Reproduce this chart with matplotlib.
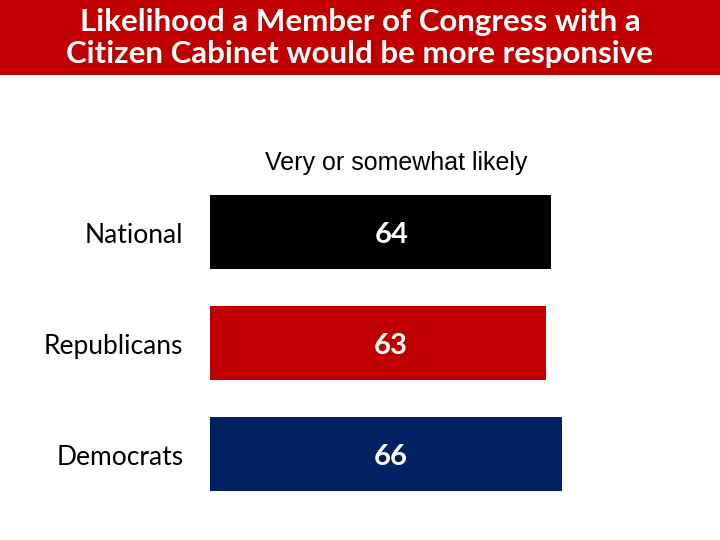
import matplotlib.pyplot as plt
from matplotlib.patches import Rectangle

# data
categories = ["National", "Republicans", "Democrats"]
values = [64, 63, 66]
bar_colors = ["#000000", "#C00000", "#002060"]
title = "Likelihood a Member of Congress with a\nCitizen Cabinet would be more responsive"
subtitle = "Very or somewhat likely"

fig = plt.figure(figsize=(7.2, 5.4), dpi=100)

# red title banner
fig.patches.append(Rectangle((0, 1 - 75 / 540), 1, 75 / 540, transform=fig.transFigure,
                             facecolor="#C00000", edgecolor="none", zorder=0))
fig.text(0.5, 1 - 38 / 540, title, ha="center", va="center", color="white",
         fontsize=22.5, fontweight="bold", family="Lato", linespacing=1.15)

fig.text(396 / 720, 1 - 163 / 540, subtitle, ha="center", va="center",
         fontsize=18, family="Liberation Sans")

ax = fig.add_axes([210 / 720, 30.5 / 540, 533 / 720, 333 / 540])
ypos = range(len(categories))
ax.barh(ypos, values, height=0.667, color=bar_colors)
ax.set_xlim(0, 100)
ax.set_ylim(2.5, -0.5)
for y, v, c in zip(ypos, values, categories):
    ax.text(34, y + 0.03, str(v), ha="center", va="center", color="white",
            fontsize=21, fontweight="bold", family="Lato")
    ax.text(-5, y + 0.03, c, ha="right", va="center", fontsize=19, family="Lato")
ax.axis("off")

fig.savefig("out.png", dpi=100)
